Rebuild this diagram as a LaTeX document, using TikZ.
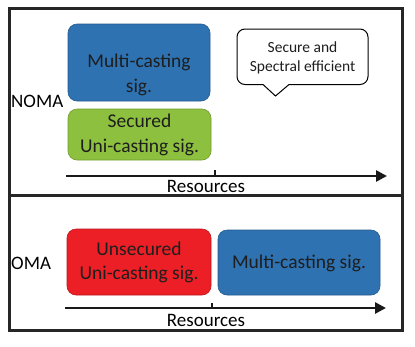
\documentclass[tikz,border=0pt]{standalone}
\usepackage{fontspec}
\setmainfont{Carlito}
\usetikzlibrary{arrows.meta}
\definecolor{sigblue}{RGB}{46,114,178}
\definecolor{siggreen}{RGB}{141,192,62}
\definecolor{sigred}{RGB}{236,30,38}
\definecolor{txt}{RGB}{30,30,30}
\tikzset{
  sigbox/.style={rounded corners=9pt, draw=#1!80!black, line width=0.6pt, fill=#1, inner sep=0pt},
  sigtext/.style={text=txt, align=center, font=\fontsize{19.5}{24.5}\selectfont, inner sep=0pt},
  lbl/.style={text=black, font=\fontsize{19}{23}\selectfont, inner sep=0pt},
  frame/.style={draw=black!85, line width=3pt},
  axis/.style={draw=black!90, line width=2.6pt, -{Triangle[length=11pt,width=11pt]}},
  tick/.style={draw=black!90, line width=2pt}
}
\begin{document}
\begin{tikzpicture}[x=1pt,y=-1pt]
\useasboundingbox (0,0) rectangle (415,346);
% frames
\draw[frame] (9,8.5) rectangle (402.5,195);
\draw[frame] (9,195) rectangle (402.5,330);
% NOMA part
\node[sigbox=sigblue, minimum width=142pt, minimum height=77pt] (mc1) at (139,62.5) {};
\node[sigtext] (mc1t) at (139,75) {Multi-casting\\sig.};
\node[sigbox=siggreen, minimum width=143pt, minimum height=51pt] (su) at (139.5,134.5) {};
\node[sigtext] (sut) at (139.5,135) {Secured\\Uni-casting sig.};
\node[lbl, anchor=west] (noma) at (11,101) {NOMA};
% callout
\node[text=txt, align=center, font=\fontsize{15.5}{19}\selectfont, inner sep=0pt] (call) at (302.5,57.5) {Secure and\\Spectral efficient};
\draw[black, line width=1pt, rounded corners=8pt] (263,84.5) -- (237,84.5) -- (237,29) -- (368,29) -- (368,84.5) -- (289,84.5);
\draw[black, line width=1pt, line join=miter] (289,84.5) -- (275.5,96) -- (263,84.5);
% axis top
\coordinate (a1s) at (66,176);
\coordinate (a1e) at (387,176);
\coordinate (t1a) at (215,176);
\coordinate (t1b) at (215,170);
\draw[axis] (a1s) -- (a1e);
\draw[tick] (t1a) -- (t1b);
\node[lbl] (res1) at (206,186.5) {Resources};
% OMA part
\node[sigbox=sigred, minimum width=144pt, minimum height=66pt] (un) at (139,262) {};
\node[sigtext] (unt) at (139,262.5) {Unsecured\\Uni-casting sig.};
\node[sigbox=sigblue, minimum width=162pt, minimum height=65pt] (mc2) at (299,262.5) {};
\node[sigtext] (mc2t) at (299,263) {Multi-casting sig.};
\node[lbl, anchor=west] (oma) at (11,263) {OMA};
% axis bottom
\coordinate (a2s) at (65,308);
\coordinate (a2e) at (386,308);
\coordinate (t2a) at (212,308);
\coordinate (t2b) at (212,302.5);
\draw[axis] (a2s) -- (a2e);
\draw[tick] (t2a) -- (t2b);
\node[lbl] (res2) at (206,320.5) {Resources};
\end{tikzpicture}
\end{document}
